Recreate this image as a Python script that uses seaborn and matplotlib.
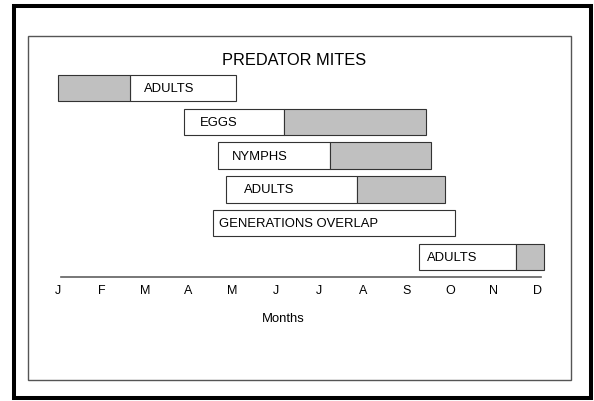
import matplotlib.pyplot as plt
import seaborn as sns
import numpy as np
import pandas as pd
from matplotlib.patches import Rectangle

# data (months: J=1 ... D=12)
months = ["J", "F", "M", "A", "M", "J", "J", "A", "S", "O", "N", "D"]
stages = ["ADULTS", "EGGS", "NYMPHS", "ADULTS", "GENERATIONS OVERLAP", "ADULTS"]
white_start = [2.66, 3.90, 4.68, 4.85, 4.56, 9.28]
white_end = [5.09, 6.19, 7.25, 7.87, 10.12, 11.52]
grey_start = [1.00, 6.19, 7.25, 7.87, np.nan, 11.52]
grey_end = [2.66, 9.45, 9.57, 9.89, np.nan, 12.16]
title = "PREDATOR MITES"
xlabel = "Months"

# layout
label_pad = [10, 11, 10, 13, 4.5, 6]  # points from left edge of white part
W, H = 594, 402

sns.set_theme(style="white")
plt.rcParams['font.family'] = ['Liberation Sans', 'DejaVu Sans']

df = pd.DataFrame({"stage": stages, "ws": white_start, "we": white_end,
                   "gs": grey_start, "ge": grey_end})
df["row"] = np.arange(len(df))

fig = plt.figure(figsize=(W / 100, H / 100), dpi=100)
ax = fig.add_axes([36.2 / W, 1 - 277.7 / H, 522.6 / W, 205.7 / H])
ax.set_xlim(0.5, 12.5)
ax.set_ylim(5.583, -0.503)

ec = '#333333'
ax.barh(df["row"], df["we"] - df["ws"], left=df["ws"], height=0.78,
        color='white', edgecolor=ec, linewidth=0.8)
g = df.dropna(subset=["gs"])
ax.barh(g["row"], g["ge"] - g["gs"], left=g["gs"], height=0.78,
        color='#c0c0c0', edgecolor=ec, linewidth=0.8)

for i, r in df.iterrows():
    ax.annotate(r["stage"], xy=(r["ws"], r["row"]), xytext=(label_pad[i], 0),
                textcoords='offset points', ha='left', va='center',
                fontsize=9.4, color='black')

ax.set_xticks(range(1, 13))
ax.set_xticklabels(months, fontsize=9, color='black')
ax.set_yticks([])
ax.tick_params(axis='x', length=0, pad=5.5)
for s in ['top', 'left', 'right']:
    ax.spines[s].set_visible(False)
ax.spines['bottom'].set_color('#606060')
ax.spines['bottom'].set_linewidth(1.2)
ax.spines['bottom'].set_bounds(1.069, 12.085)

ax.set_xlabel(xlabel, fontsize=9.4, color='black')
ax.xaxis.set_label_coords((283 - 36.2) / 522.6, -0.17)
ax.set_title(title, fontsize=11.8, color='black',
             x=(293.6 - 36.2) / 522.6, y=(277.7 - 65) / 205.7, pad=0)

# frames
fig.patches.append(Rectangle((27.5 / W, 1 - 381 / H), (571 - 27.5) / W, (381 - 37) / H,
                             transform=fig.transFigure, fill=False,
                             edgecolor='#555555', linewidth=1.0))
fig.patches.append(Rectangle((14 / W, 1 - 399 / H), (590.5 - 14) / W, (399 - 7) / H,
                             transform=fig.transFigure, fill=False,
                             edgecolor='black', linewidth=2.9))

fig.savefig("out.png", dpi=100)
